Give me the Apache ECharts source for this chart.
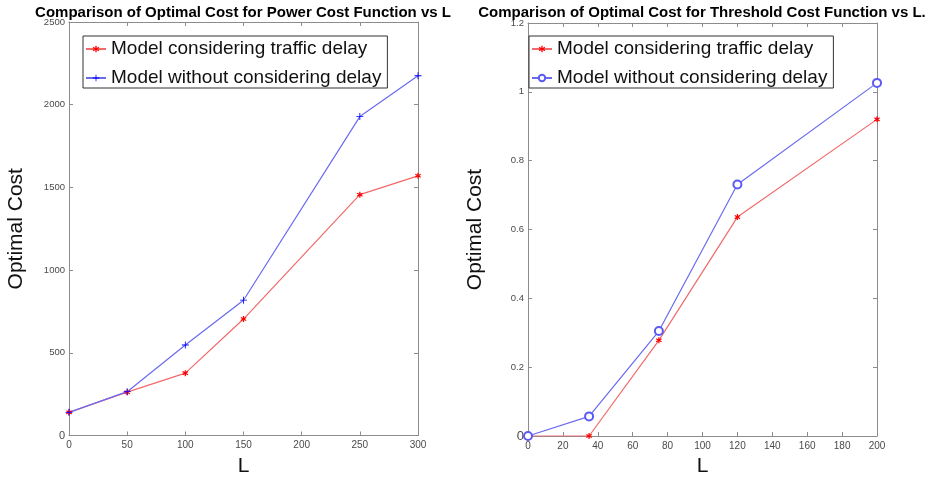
<!DOCTYPE html>
<html>
<head>
<meta charset="utf-8">
<script src="https://cdn.jsdelivr.net/npm/echarts@6/dist/echarts.min.js"></script>
<style>
html,body{margin:0;padding:0;background:#fff;}
#c{width:936px;height:478px;}
</style>
</head>
<body>
<div id="c"></div>
<script>
// Left chart: Power cost function
const L1 = [0, 50, 100, 150, 250, 300];
const red1 = [140, 262, 377, 704, 1456, 1570];
const blue1 = [140, 265, 547, 818, 1928, 2175];
// Right chart: Threshold cost function
const L2 = [0, 35, 75, 120, 200];
const red2 = [0, 0, 0.278, 0.636, 0.92];
const blue2 = [0, 0.057, 0.305, 0.731, 1.026];

const title1 = 'Comparison of Optimal Cost for Power Cost Function vs L';
const title2 = 'Comparison of Optimal Cost for Threshold Cost Function vs L.';
const nameRed = 'Model considering traffic delay';
const nameBlue = 'Model without considering delay';

const FONT = 'Liberation Sans, Arial, sans-serif';
const AX = '#8c8c8c';
const LBL = '#4a4a4a';
const RED_LINE = '#f06a6a';
const BLUE_LINE = '#6a6af0';
const STAR = 'path://M4,0h2v3.3l2.9,-1.7l1,1.7l-2.9,1.7l2.9,1.7l-1,1.7l-2.9,-1.7v3.3h-2v-3.3l-2.9,1.7l-1,-1.7l2.9,-1.7l-2.9,-1.7l1,-1.7l2.9,1.7z';
const PLUS = 'path://M4.4,0h1.2v4.4h4.4v1.2h-4.4v4.4h-1.2v-4.4h-4.4v-1.2h4.4z';

function pairs(xs, ys) { return xs.map((x, i) => [x, ys[i]]); }

function mainX(grid, max, interval) {
  return {
    type: 'value', gridIndex: grid, min: 0, max: max, interval: interval,
    position: 'bottom',
    name: 'L', nameLocation: 'middle', nameGap: 19,
    nameTextStyle: { fontFamily: FONT, fontSize: 21, color: '#111' },
    axisLine: { show: true, onZero: false, lineStyle: { color: AX, width: 1 } },
    axisTick: { show: true, inside: true, length: 4, lineStyle: { color: AX } },
    axisLabel: { fontFamily: FONT, fontSize: 10, color: LBL, margin: 5 },
    splitLine: { show: false }
  };
}
function sideX(grid, max, interval) {
  return {
    type: 'value', gridIndex: grid, min: 0, max: max, interval: interval,
    position: 'top',
    axisLine: { show: true, onZero: false, lineStyle: { color: AX, width: 1 } },
    axisTick: { show: true, inside: true, length: 4, lineStyle: { color: AX } },
    axisLabel: { show: false }, splitLine: { show: false }
  };
}
function mainY(grid, max, interval, zeroSize) {
  return {
    type: 'value', gridIndex: grid, min: 0, max: max, interval: interval,
    position: 'left',
    name: 'Optimal Cost', nameLocation: 'middle', nameGap: 42, nameRotate: 90,
    nameTextStyle: { fontFamily: FONT, fontSize: 21, color: '#111' },
    axisLine: { show: true, onZero: false, lineStyle: { color: AX, width: 1 } },
    axisTick: { show: true, inside: true, length: 4, lineStyle: { color: AX } },
    axisLabel: {
      fontFamily: FONT, fontSize: 9.5, color: LBL, margin: 4,
      formatter: v => (v === 0 ? '{z|0}' : String(Math.round(v * 10) / 10)),
      rich: { z: { fontFamily: FONT, fontSize: zeroSize, color: LBL } }
    },
    splitLine: { show: false }
  };
}
function sideY(grid, max, interval) {
  return {
    type: 'value', gridIndex: grid, min: 0, max: max, interval: interval,
    position: 'right',
    axisLine: { show: true, onZero: false, lineStyle: { color: AX, width: 1 } },
    axisTick: { show: true, inside: true, length: 4, lineStyle: { color: AX } },
    axisLabel: { show: false }, splitLine: { show: false }
  };
}
function legendAt(left, names) {
  return {
    left: left, top: 36, orient: 'vertical',
    padding: [3, 6, 0, 2], itemGap: 9, itemWidth: 20, itemHeight: 8,
    borderColor: '#333', borderWidth: 1, backgroundColor: '#fff',
    data: names,
    formatter: n => n.trim(),
    textStyle: { fontFamily: FONT, fontSize: 19, color: '#111', lineHeight: 20 },
    selectedMode: false
  };
}

const option = {
  backgroundColor: '#fff',
  animation: false,
  title: [
    { text: title1, left: 243, top: 5, textAlign: 'center', padding: 0,
      textStyle: { fontFamily: FONT, fontSize: 15, fontWeight: 'bold', color: '#000' } },
    { text: title2, left: 702, top: 5, textAlign: 'center', padding: 0,
      textStyle: { fontFamily: FONT, fontSize: 15, fontWeight: 'bold', color: '#000' } }
  ],
  grid: [
    { left: 69, top: 22, width: 349, height: 413.5, containLabel: false, outerBoundsMode: 'none' },
    { left: 528, top: 23, width: 349, height: 413, containLabel: false, outerBoundsMode: 'none' }
  ],
  xAxis: [mainX(0, 300, 50), sideX(0, 300, 50), mainX(1, 200, 20), sideX(1, 200, 20)],
  yAxis: [mainY(0, 2500, 500, 11), sideY(0, 2500, 500), mainY(1, 1.2, 0.2, 13), sideY(1, 1.2, 0.2)],
  legend: [
    legendAt(83, [nameRed, nameBlue]),
    legendAt(529, [nameRed + ' ', nameBlue + ' '])
  ],
  series: [
    { type: 'line', name: nameRed, xAxisIndex: 0, yAxisIndex: 0, data: pairs(L1, red1),
      symbol: STAR, symbolSize: 6, showAllSymbol: true,
      lineStyle: { color: RED_LINE, width: 1.2 }, itemStyle: { color: '#f00' } },
    { type: 'line', name: nameBlue, xAxisIndex: 0, yAxisIndex: 0, data: pairs(L1, blue1),
      symbol: PLUS, symbolSize: 7, showAllSymbol: true,
      lineStyle: { color: BLUE_LINE, width: 1.2 }, itemStyle: { color: '#00f' } },
    { type: 'line', name: nameRed + ' ', xAxisIndex: 2, yAxisIndex: 2, data: pairs(L2, red2),
      symbol: STAR, symbolSize: 6, showAllSymbol: true,
      lineStyle: { color: RED_LINE, width: 1.2 }, itemStyle: { color: '#f00' } },
    { type: 'line', name: nameBlue + ' ', xAxisIndex: 2, yAxisIndex: 2, data: pairs(L2, blue2),
      symbol: 'emptyCircle', symbolSize: 8, showAllSymbol: true,
      lineStyle: { color: BLUE_LINE, width: 1.2 }, itemStyle: { color: '#5a5af5', borderWidth: 0.9 } }
  ]
};

const chart = echarts.init(document.getElementById('c'), null, { renderer: 'canvas' });
chart.setOption(option);
</script>
</body>
</html>
